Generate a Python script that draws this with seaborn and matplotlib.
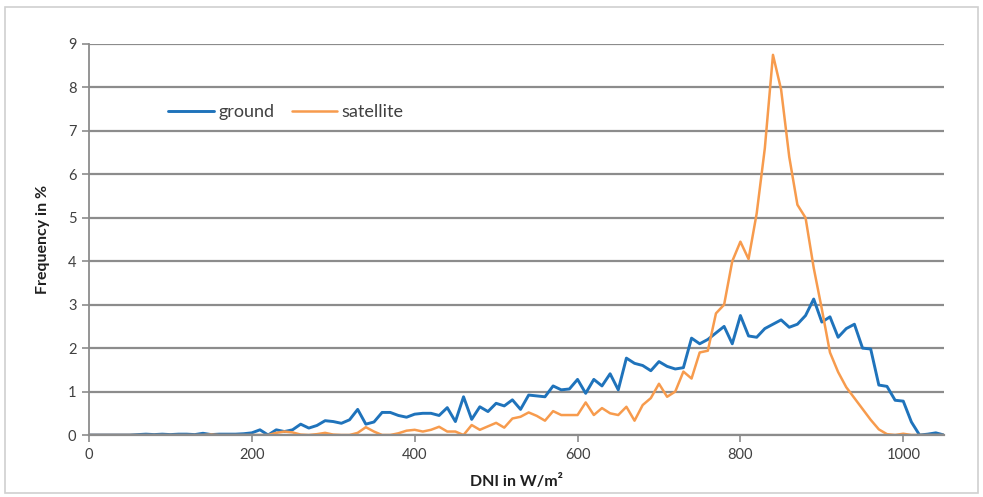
import numpy as np
import pandas as pd
import matplotlib
matplotlib.use('Agg')
import matplotlib.pyplot as plt
import seaborn as sns
from matplotlib.patches import Rectangle
from matplotlib.lines import Line2D

# DNI bins (W/m2), 10 W/m2 steps
dni = list(range(0, 1060, 10))

# Frequency in %
ground = [0, 0, 0, 0, 0, 0, 0.01, 0.02, 0.01, 0.02,
          0.01, 0.02, 0.02, 0.01, 0.04, 0.01, 0.02, 0.02, 0.02, 0.03,
          0.05, 0.12, 0.0, 0.12, 0.08, 0.12, 0.25, 0.16, 0.22, 0.33,
          0.31, 0.27, 0.35, 0.59, 0.25, 0.3, 0.52, 0.52, 0.45, 0.41,
          0.48, 0.5, 0.5, 0.45, 0.63, 0.31, 0.88, 0.36, 0.65, 0.54,
          0.73, 0.67, 0.81, 0.59, 0.92, 0.9, 0.88, 1.13, 1.04, 1.06,
          1.28, 0.96, 1.28, 1.13, 1.41, 1.04, 1.77, 1.65, 1.6, 1.48,
          1.69, 1.58, 1.52, 1.55, 2.23, 2.1, 2.2, 2.35, 2.5, 2.1,
          2.75, 2.28, 2.25, 2.45, 2.55, 2.65, 2.48, 2.55, 2.75, 3.13,
          2.6, 2.72, 2.25, 2.45, 2.55, 2.0, 1.98, 1.15, 1.12, 0.8,
          0.78, 0.3, 0.0, 0.02, 0.05, 0.0]

satellite = [0, 0, 0, 0, 0, 0, 0, 0, 0, 0,
             0, 0, 0, 0, 0, 0.01, 0, 0, 0, 0,
             0, 0, 0, 0.05, 0.08, 0.06, 0.01, 0, 0.02, 0.05,
             0.01, 0, 0, 0.05, 0.18, 0.08, 0, 0, 0.04, 0.1,
             0.12, 0.08, 0.12, 0.19, 0.08, 0.08, 0.0, 0.23, 0.12, 0.2,
             0.28, 0.17, 0.38, 0.42, 0.52, 0.44, 0.33, 0.55, 0.46, 0.46,
             0.46, 0.75, 0.46, 0.62, 0.5, 0.46, 0.65, 0.33, 0.69, 0.85,
             1.18, 0.88, 1.0, 1.46, 1.3, 1.9, 1.94, 2.8, 3.0, 4.0,
             4.45, 4.05, 5.1, 6.6, 8.75, 7.95, 6.4, 5.3, 5.0, 3.85,
             2.9, 1.9, 1.45, 1.1, 0.85, 0.6, 0.35, 0.13, 0.02, 0.0,
             0.03, 0, 0, 0, 0, 0]

x_ticks = [0, 200, 400, 600, 800, 1000]
y_ticks = list(range(0, 10))

df = pd.DataFrame({'DNI': dni * 2,
                   'freq': ground + satellite,
                   'series': ['ground'] * len(dni) + ['satellite'] * len(dni)})

sns.set_style('white')
plt.rcParams['font.family'] = ['Lato', 'DejaVu Sans']

fig = plt.figure(figsize=(9.83, 4.97), dpi=100)
ax = fig.add_axes([0.0905, 0.1247, 0.8698, 0.7868])

# outer frame of the chart area
fig.patches.append(Rectangle((0.005, 0.008), 0.99, 0.978, transform=fig.transFigure,
                             fill=False, edgecolor='#d0d0d0', linewidth=1.2))

sns.lineplot(data=df, x='DNI', y='freq', hue='series', ax=ax,
             palette={'ground': '#1f73bb', 'satellite': '#f79b4d'},
             linewidth=2.1, legend=False)
ax.lines[1].set_linewidth(1.8)

ax.set_xlim(0, 1050)
ax.set_ylim(0, 9)
ax.set_xticks(x_ticks)
ax.set_yticks(y_ticks)
ax.yaxis.grid(True, color='#8c8c8c', linewidth=1.6)
ax.set_axisbelow(True)
for s in ['top', 'right']:
    ax.spines[s].set_visible(False)
ax.spines['left'].set_color('#8c8c8c')
ax.spines['bottom'].set_color('#8c8c8c')
ax.spines['left'].set_linewidth(1.3)
ax.spines['bottom'].set_linewidth(1.6)
ax.tick_params(axis='both', which='both', direction='out', length=5, width=1.2,
               color='#8c8c8c', labelsize=10.5, labelcolor='#404040', pad=4)
ax.tick_params(left=True, bottom=True)

ax.set_xlabel('DNI in W/m\u00b2', fontsize=11.5, fontweight='bold', labelpad=9, color='#202020')
ax.set_ylabel('Frequency in %', fontsize=11.5, fontweight='bold', labelpad=13, color='#202020')

handles = [Line2D([], [], color='#1f73bb', linewidth=2.1),
           Line2D([], [], color='#f79b4d', linewidth=1.8)]
leg = ax.legend(handles, ['ground', 'satellite'], loc='upper left', ncol=2,
                bbox_to_anchor=(0.074, 0.888), frameon=False, handlelength=2.5,
                handletextpad=0.25, columnspacing=1.0,
                prop={'family': 'Lato', 'size': 13})
for t in leg.get_texts():
    t.set_color('#404040')

fig.savefig('out.png', dpi=100)
